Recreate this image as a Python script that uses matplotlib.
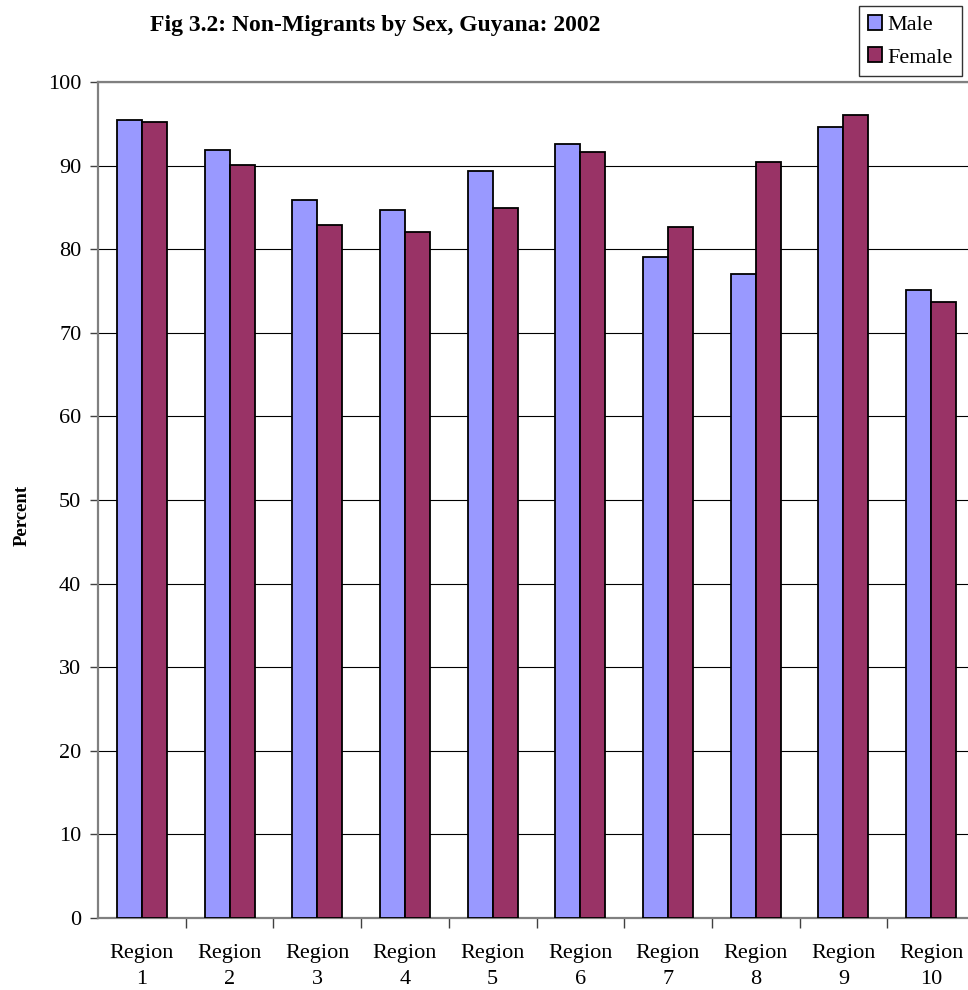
import matplotlib
matplotlib.use("Agg")
import matplotlib.pyplot as plt
import numpy as np

# values (percent non-migrants)
regions = ["Region\n1", "Region\n2", "Region\n3", "Region\n4", "Region\n5",
           "Region\n6", "Region\n7", "Region\n8", "Region\n9", "Region\n10"]
male = [95.4, 91.9, 85.9, 84.7, 89.4, 92.6, 79.1, 77.0, 94.6, 75.1]
female = [95.2, 90.1, 82.9, 82.0, 84.9, 91.6, 82.6, 90.4, 96.0, 73.7]

plt.rcParams.update({
    "font.family": ["Liberation Serif", "DejaVu Serif"],
    "font.size": 16,
})

fig = plt.figure(figsize=(9.68, 9.9), dpi=100)
ax = fig.add_axes([98 / 968, 72 / 990, (975 - 98) / 968, (918 - 82) / 990])

x = np.arange(len(regions))
w = 0.285
ax.bar(x - w / 2, male, w, color="#9999FF", edgecolor="black", linewidth=1.3,
       label="Male", zorder=3)
ax.bar(x + w / 2, female, w, color="#993366", edgecolor="black", linewidth=1.3,
       label="Female", zorder=3)

ax.set_xlim(-0.5, len(regions) - 0.5)
ax.set_ylim(0, 100)
ax.set_yticks(range(0, 101, 10))
ax.yaxis.grid(True, color="black", linewidth=0.8, zorder=0)
ax.set_axisbelow(True)

ax.set_xticks(x)
ax.set_xticklabels(regions, linespacing=1.5)
ax.set_xticks(np.arange(0.5, len(regions) - 0.5, 1.0), minor=True)
ax.tick_params(axis="x", which="major", length=0, pad=19)
ax.tick_params(axis="x", which="minor", length=7, width=1, color="#404040")
ax.tick_params(axis="y", length=6, width=1, color="#404040", pad=6)

for side in ["left", "top", "bottom", "right"]:
    ax.spines[side].set_color("#808080")
    ax.spines[side].set_linewidth(1.6)

fig.text(375 / 968, 1 - 26 / 990, "Fig 3.2: Non-Migrants by Sex, Guyana: 2002",
         ha="center", va="center", fontsize=17, fontweight="bold")
fig.text(22 / 968, 1 - 515 / 990, "Percent", rotation=90, ha="center",
         va="center", fontsize=13.5, fontweight="bold")

leg = ax.legend(loc="upper right", bbox_to_anchor=(962 / 968, 1 - 6 / 990),
                bbox_transform=fig.transFigure, fancybox=False, frameon=True,
                edgecolor="black", handlelength=0.65, handleheight=0.65,
                handletextpad=0.25, labelspacing=0.55, borderpad=0.4,
                borderaxespad=0, fontsize=16)
leg.get_frame().set_linewidth(1.0)

fig.savefig("out.png", dpi=100, facecolor="white")
